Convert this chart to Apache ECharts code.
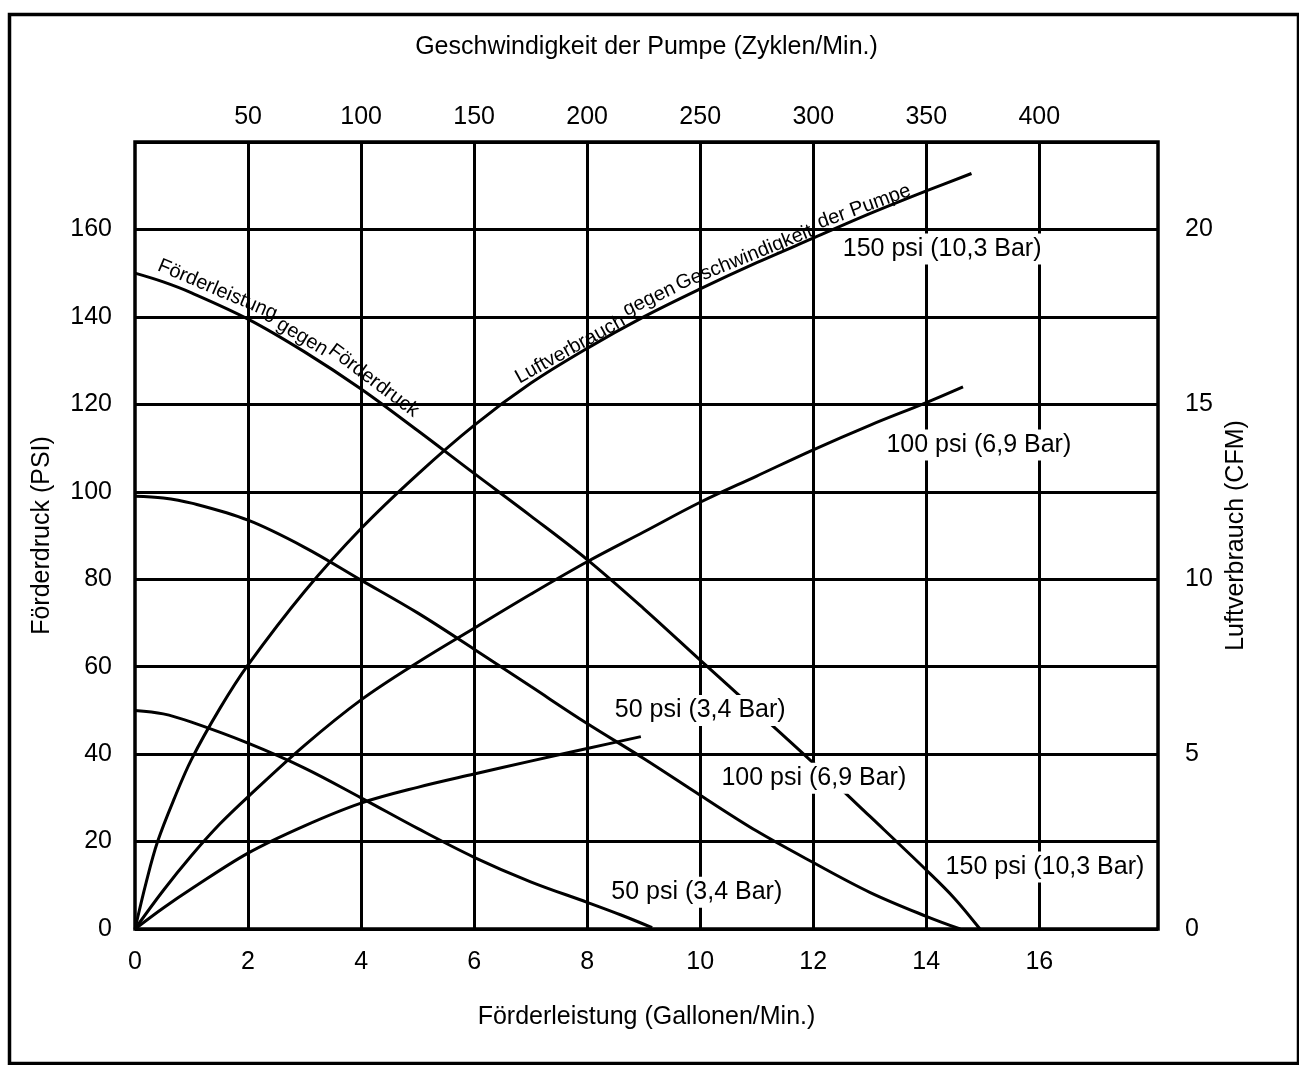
<!DOCTYPE html>
<html><head><meta charset="utf-8">
<script src="https://cdn.jsdelivr.net/npm/echarts@6/dist/echarts.min.js"></script>
<style>html,body{margin:0;padding:0;background:#fff}#c{width:1299px;height:1065px}</style>
</head><body><div id="c"></div>
<script>
// Tick labels
const bottomTicks = [0, 2, 4, 6, 8, 10, 12, 14, 16];
const topTicks = [50, 100, 150, 200, 250, 300, 350, 400];
const leftTicks = [0, 20, 40, 60, 80, 100, 120, 140, 160];
const rightTicks = [0, 5, 10, 15, 20];
const verticalGrid = [2, 4, 6, 8, 10, 12, 14, 16];

// Förderleistung (GPM) vs Förderdruck (PSI)
const flow150 = [[0,150],[0.5,148],[1,145.5],[2,139.5],[3,132],[4,123.5],[5,114],[6,104.2],[7,94.5],[8,84.5],[9,73.3],[10,61.5],[11,49.8],[12,38],[13,25.8],[14,13.5],[14.5,7],[14.95,0]];
const flow100 = [[0,99],[0.5,98.6],[1,97.4],[2,93.5],[3,87.3],[4,79.8],[5,72.3],[6,64],[7,55.5],[8,47],[9,39],[10,30.6],[11,22.4],[12,15.2],[13,8.4],[14,2.9],[14.6,0]];
const flow50  = [[0,50],[0.5,49.2],[1,47.3],[2,42.5],[3,36.8],[4,30],[5,23],[6,16.4],[7,10.8],[8,6.1],[8.6,3.2],[9.15,0.3]];

// Luftverbrauch (CFM)
const air150 = [[0,0],[0.2,1.35],[0.4,2.5],[0.7,3.75],[1,4.85],[1.5,6.3],[2,7.55],[3,9.65],[4,11.45],[5,13.0],[6,14.4],[7,15.6],[8,16.6],[9,17.5],[10,18.3],[11,19.05],[12,19.75],[13,20.45],[14,21.1],[14.8,21.6]];
const air100 = [[0,0],[0.5,1.1],[1,2.1],[1.5,3],[2,3.78],[3,5.25],[4,6.55],[5,7.62],[6,8.6],[7,9.57],[8,10.5],[9,11.35],[10,12.2],[11,12.95],[12,13.7],[13,14.4],[14,15.05],[14.65,15.5]];
const air50  = [[0,0],[0.5,0.6],[1,1.15],[2,2.17],[3,2.95],[4,3.6],[5,4.05],[6,4.43],[7,4.8],[8,5.16],[8.95,5.5]];

// Annotation texts (positions in GPM / PSI)
const curveLabels = [
  ['150 psi (10,3 Bar)', 14.28, 155.5],
  ['100 psi (6,9 Bar)', 14.93, 110.7],
  ['50 psi (3,4 Bar)', 10.0, 50.0],
  ['100 psi (6,9 Bar)', 12.01, 34.5],
  ['150 psi (10,3 Bar)', 16.1, 14.2],
  ['50 psi (3,4 Bar)', 9.94, 8.4]
];
const curveTexts = [
  ['Förderleistung', 1.46, 146.2, -23],
  ['gegen', 2.96, 135.4, -31],
  ['Förderdruck', 4.22, 125.4, -37],
  ['Luftverbrauch', 7.7, 132.6, 29],
  ['gegen', 9.1, 144.0, 25],
  ['Geschwindigkeit', 10.78, 153.5, 22],
  ['der Pumpe', 12.9, 165.2, 20]
];

const FONT = "'Liberation Sans', Arial, Helvetica, sans-serif";
const chart = echarts.init(document.getElementById('c'), null, {renderer: 'canvas'});

function lineSeries(name, data, yIdx) {
  return {
    name, type: 'line', data, xAxisIndex: 0, yAxisIndex: yIdx,
    smooth: 0.35, symbol: 'none', z: 3,
    lineStyle: {color: '#000', width: 3}, silent: true
  };
}
function fmt(list) { return v => list.includes(Math.round(v * 1000) / 1000) ? String(v) : ''; }

const option = {
  backgroundColor: '#fff',
  animation: false,
  textStyle: {fontFamily: FONT, color: '#000'},
  grid: {left: 135, top: 142, width: 1023, height: 787, show: true, borderColor: '#000', borderWidth: 3.5, backgroundColor: 'transparent'},
  xAxis: [
    {
      type: 'value', position: 'bottom', min: 0, max: 18.1, interval: 2,
      name: 'Förderleistung (Gallonen/Min.)', nameLocation: 'middle', nameGap: 76,
      nameTextStyle: {fontSize: 25, color: '#000', fontFamily: FONT},
      axisLine: {show: false}, axisTick: {show: false}, splitLine: {show: false},
      axisLabel: {fontSize: 25, color: '#000', fontFamily: FONT, margin: 21, formatter: fmt(bottomTicks)}
    },
    {
      type: 'value', position: 'top', min: 0, max: 452.5, interval: 50,
      name: 'Geschwindigkeit der Pumpe (Zyklen/Min.)', nameLocation: 'middle', nameGap: 82,
      nameTextStyle: {fontSize: 25, color: '#000', fontFamily: FONT},
      axisLine: {show: false}, axisTick: {show: false}, splitLine: {show: false},
      axisLabel: {fontSize: 25, color: '#000', fontFamily: FONT, margin: 12, formatter: fmt(topTicks)}
    }
  ],
  yAxis: [
    {
      type: 'value', position: 'left', min: 0, max: 180, interval: 20,
      name: 'Förderdruck (PSI)', nameLocation: 'middle', nameGap: 80, nameRotate: 90,
      nameTextStyle: {fontSize: 25, color: '#000', fontFamily: FONT},
      axisLine: {show: false}, axisTick: {show: false},
      splitLine: {show: true, lineStyle: {color: '#000', width: 3}},
      axisLabel: {fontSize: 25, color: '#000', fontFamily: FONT, margin: 23, formatter: fmt(leftTicks)}
    },
    {
      type: 'value', position: 'right', min: 0, max: 22.5, interval: 5,
      name: 'Luftverbrauch (CFM)', nameLocation: 'middle', nameGap: 66, nameRotate: 90,
      nameTextStyle: {fontSize: 25, color: '#000', fontFamily: FONT},
      axisLine: {show: false}, axisTick: {show: false}, splitLine: {show: false},
      axisLabel: {fontSize: 25, color: '#000', fontFamily: FONT, margin: 27, formatter: fmt(rightTicks)}
    }
  ],
  graphic: [{
    type: 'rect', left: 7, top: 12, z: 100, silent: true,
    shape: {width: 1289, height: 1049},
    style: {fill: 'none', stroke: '#000', lineWidth: 3.5}
  }],
  series: [
    {
      name: 'vgrid', type: 'line', data: [], xAxisIndex: 0, yAxisIndex: 0, z: 1, silent: true,
      markLine: {
        silent: true, symbol: 'none', animation: false,
        label: {show: false},
        lineStyle: {color: '#000', width: 3, type: 'solid'},
        data: verticalGrid.map(v => ({xAxis: v}))
      }
    },
    lineSeries('flow150', flow150, 0),
    lineSeries('flow100', flow100, 0),
    lineSeries('flow50', flow50, 0),
    lineSeries('air150', air150, 1),
    lineSeries('air100', air100, 1),
    lineSeries('air50', air50, 1),
    {
      name: 'labels', type: 'scatter', xAxisIndex: 0, yAxisIndex: 0, z: 10, silent: true,
      symbolSize: 0, itemStyle: {color: '#000', opacity: 1},
      data: curveLabels.map(d => ({value: [d[1], d[2]], label: {formatter: d[0]}})),
      label: {show: true, position: 'inside', fontSize: 25, color: '#000', fontFamily: FONT, opacity: 1,
        textBorderWidth: 0, textBorderColor: 'transparent',
        backgroundColor: '#fff', padding: [3, 3, 3, 3]}
    },
    {
      name: 'curvetexts', type: 'scatter', xAxisIndex: 0, yAxisIndex: 0, z: 10, silent: true,
      symbolSize: 0, itemStyle: {color: '#000', opacity: 1},
      data: curveTexts.map(d => ({value: [d[1], d[2]], label: {formatter: d[0], rotate: d[3]}})),
      label: {show: true, position: 'inside', fontSize: 20, color: '#000', fontFamily: FONT, opacity: 1,
        textBorderWidth: 0, textBorderColor: 'transparent'}
    }
  ]
};
chart.setOption(option);
</script>
</body></html>
